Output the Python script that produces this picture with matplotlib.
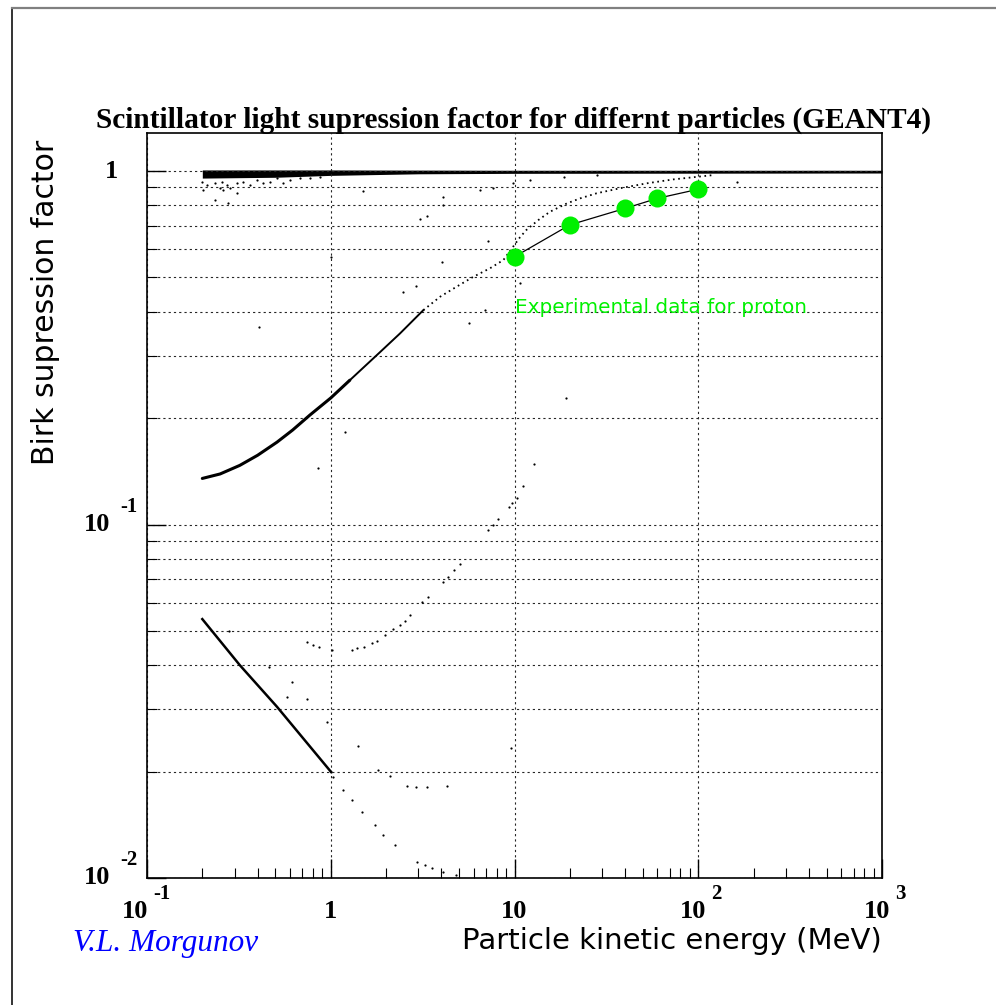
import matplotlib
matplotlib.use("Agg")
import matplotlib.pyplot as plt
import numpy as np
from matplotlib.lines import Line2D
from matplotlib.ticker import LogLocator, NullFormatter

plt.rcParams["lines.scale_dashes"] = False

# ---- data ----
# dense band near 1 (all particles at high energy)
band_x = [0.2, 0.5, 1.0, 3.0, 10, 100, 1000]
band_hi = [1.007, 1.007, 1.007, 1.006, 1.005, 1.005, 1.005]
band_lo = [0.955, 0.960, 0.972, 0.982, 0.985, 0.986, 0.987]

# scattered points just below the band
band_sc_x = [0.199, 0.2025, 0.211, 0.235, 0.235, 0.25, 0.255, 0.26, 0.272, 0.277, 0.283,
             0.308, 0.308, 0.334, 0.364, 0.396, 0.43, 0.467, 0.508, 0.552, 0.60, 0.68,
             0.77, 0.87, 1.5, 4.09, 4.09, 6.5, 7.68, 9.87, 12.2, 18.5, 28.0, 162]
band_sc_y = [0.933, 0.884, 0.913, 0.923, 0.828, 0.894, 0.933, 0.884, 0.913, 0.810, 0.894,
             0.865, 0.923, 0.933, 0.913, 0.943, 0.923, 0.933, 0.953, 0.923, 0.943, 0.953,
             0.953, 0.964, 0.880, 0.844, 0.801, 0.884, 0.894, 0.923, 0.943, 0.964, 0.974, 0.930]

# proton curve, dense part
proton_x = [0.2, 0.25, 0.32, 0.40, 0.51, 0.62, 0.77, 1.0, 1.27]
proton_y = [0.135, 0.139, 0.147, 0.157, 0.171, 0.185, 0.204, 0.228, 0.256]
# proton curve, thinner part
proton1_x = [1.27, 1.85, 2.38, 3.19]
proton1_y = [0.256, 0.307, 0.347, 0.404]
# proton curve, sparse part
proton2_x = [3.19, 3.94, 4.85, 5.97, 7.37, 8.7, 10.7, 11.6, 13.5, 15.6, 19.3,
             22.8, 28.0, 37.6, 52.5, 73.3, 121]
proton2_y = [0.404, 0.441, 0.471, 0.502, 0.531, 0.560, 0.649, 0.681, 0.727, 0.767,
             0.810, 0.837, 0.865, 0.894, 0.923, 0.947, 0.974]

# alpha-like curve, dense part then sparse tail
alpha_x = [0.2, 0.32, 0.51, 1.0]
alpha_y = [0.054, 0.040, 0.0305, 0.020]
alpha2_x = [1.0, 1.033, 1.171, 1.301, 1.475, 1.743, 1.934, 2.239, 2.961, 3.262, 3.574,
            4.102, 4.81]
alpha2_y = [0.020, 0.0193, 0.0177, 0.0166, 0.0154, 0.0141, 0.0132, 0.0124, 0.0111,
            0.0109, 0.0107, 0.0104, 0.0102]

# rising sparse curve
rise_x = [0.74, 0.804, 0.867, 1.013, 1.301, 1.385, 1.518, 1.672, 1.78, 1.975, 2.192,
          2.384, 2.538, 2.702, 3.15, 3.39, 4.07, 4.37, 4.69, 5.06, 7.21, 7.68, 8.17,
          9.38, 9.67, 10.3, 11.1, 12.7, 19.0]
rise_y = [0.0466, 0.0456, 0.0449, 0.0442, 0.0442, 0.0446, 0.0451, 0.0461, 0.0469, 0.0487,
          0.0505, 0.0520, 0.0534, 0.0555, 0.0603, 0.0625, 0.0686, 0.0712, 0.0743, 0.0772,
          0.0965, 0.0997, 0.1034, 0.1123, 0.1148, 0.1186, 0.1288, 0.148, 0.2275]

# low flat sparse curve
low_x = [1.81, 2.10, 2.60, 2.91, 3.34, 4.30]
low_y = [0.0202, 0.0194, 0.0182, 0.0181, 0.0181, 0.0182]

# isolated points
iso_x = [3.06, 3.34, 6.92, 7.18, 1.0, 2.475, 2.91, 4.04, 5.66, 0.407, 10.7, 0.856,
         1.196, 0.2795, 0.4596, 0.6134, 0.5758, 0.7401, 0.951, 1.414, 9.58]
iso_y = [0.732, 0.746, 0.404, 0.634, 0.571, 0.455, 0.473, 0.553, 0.372, 0.362, 0.482,
         0.1447, 0.183, 0.0501, 0.0394, 0.0359, 0.0326, 0.0321, 0.0277, 0.0237, 0.0233]

# experimental proton data
exp_x = [10, 20, 40, 60, 100]
exp_y = [0.572, 0.704, 0.784, 0.837, 0.888]

# ---- figure ----
fig = plt.figure(figsize=(9.96, 10.05), dpi=100)
ax = fig.add_axes([147 / 996, 1 - 878 / 1005, 735 / 996, 745 / 1005])
ax.set_xscale("log")
ax.set_yscale("log")
ax.set_xlim(0.1, 1000)
ax.set_ylim(0.01, 1.281)

ax.xaxis.set_major_locator(LogLocator(base=10, numticks=10))
ax.xaxis.set_minor_locator(LogLocator(base=10, subs=np.arange(2, 10), numticks=40))
ax.yaxis.set_major_locator(LogLocator(base=10, numticks=10))
ax.yaxis.set_minor_locator(LogLocator(base=10, subs=np.arange(2, 10), numticks=40))
ax.xaxis.set_minor_formatter(NullFormatter())
ax.yaxis.set_minor_formatter(NullFormatter())
ax.tick_params(which="major", direction="in", length=14, width=1.0,
               labelbottom=False, labelleft=False)
ax.tick_params(which="minor", direction="in", length=7, width=0.8)
for s in ax.spines.values():
    s.set_linewidth(1.2)

grid_kw = dict(color="0.15", linewidth=0.8, linestyle=(0, (1.6, 2.2)))
ax.grid(True, which="major", axis="x", **grid_kw)
ax.grid(True, which="both", axis="y", **grid_kw)

# simulated points
ax.fill_between(band_x, band_lo, band_hi, color="black", linewidth=0)
ax.plot(band_sc_x, band_sc_y, "o", color="black", ms=1.6, mew=0)
ax.plot(proton_x, proton_y, "-", color="black", lw=2.2, solid_capstyle="round")
ax.plot(proton1_x, proton1_y, "-", color="black", lw=1.4)
ax.plot(proton2_x, proton2_y, color="black", lw=1.3, linestyle=(0, (1.2, 2.6)))
ax.plot(alpha_x, alpha_y, "-", color="black", lw=1.8)
ax.plot(alpha2_x, alpha2_y, "o", color="black", ms=1.6, mew=0)
ax.plot(rise_x, rise_y, "o", color="black", ms=1.6, mew=0)
ax.plot(low_x, low_y, "o", color="black", ms=1.6, mew=0)
ax.plot(iso_x, iso_y, "o", color="black", ms=1.6, mew=0)

# experimental data
ax.plot(exp_x, exp_y, "-", color="black", lw=0.9, zorder=4)
ax.plot(exp_x, exp_y, "o", color="#00f000", ms=13, mew=0, zorder=5)
ax.text(10.05, 0.41, "Experimental data for proton", color="#00f000",
        fontsize=14.4, family="DejaVu Sans", ha="left", va="center")

# tick labels, ROOT style
lab_kw = dict(fontsize=19, fontweight="bold", family="Liberation Serif",
              textcoords="offset pixels", annotation_clip=False)
exp_kw = dict(fontsize=15, fontweight="bold", family="Liberation Serif",
              textcoords="offset pixels", annotation_clip=False)
x_labels = [(0.1, "10", "-1"), (1, "1", None), (10, "10", None), (100, "10", "2"), (1000, "10", "3")]
for v, base, ex in x_labels:
    xc = ("data", "axes fraction")
    if ex is None:
        ax.annotate(base, (v, 0), xycoords=xc, xytext=(0, -34), ha="center", va="center", **lab_kw)
    else:
        off = 1 if ex.startswith("-") else 8
        ax.annotate(base, (v, 0), xycoords=xc, xytext=(off, -34), ha="right", va="center", **lab_kw)
        ax.annotate(ex, (v, 0), xycoords=xc, xytext=(off + 5, -16), ha="left", va="center", **exp_kw)

y_labels = [(1, "1", None), (0.1, "10", "-1"), (0.01, "10", "-2")]
for v, base, ex in y_labels:
    yc = ("axes fraction", "data")
    if ex is None:
        ax.annotate(base, (0, v), xycoords=yc, xytext=(-29, 0), ha="right", va="center", **lab_kw)
    else:
        ax.annotate(base, (0, v), xycoords=yc, xytext=(-37, 0), ha="right", va="center", **lab_kw)
        ax.annotate(ex, (0, v), xycoords=yc, xytext=(-27, 18), ha="left", va="center", **exp_kw)

# titles and labels
fig.text(514 / 996, 1 - 120 / 1005,
         "Scintillator light supression factor for differnt particles (GEANT4)",
         fontsize=21.2, fontweight="bold", family="Liberation Serif", ha="center", va="center")
fig.text(882 / 996, 1 - 941 / 1005, "Particle kinetic energy (MeV)",
         fontsize=21, family="DejaVu Sans", ha="right", va="center")
fig.text(45 / 996, 1 - 140 / 1005, "Birk supression factor", rotation=90,
         fontsize=21.5, family="DejaVu Sans", ha="center", va="top")
fig.text(73 / 996, 1 - 943 / 1005, "V.L. Morgunov", color="#0000ff",
         fontsize=22.5, style="italic", family="Liberation Serif", ha="left", va="center")

# canvas border (top and left)
fig.add_artist(Line2D([12 / 996, 12 / 996], [0, 1 - 8 / 1005], color="0.2", lw=1.4))
fig.add_artist(Line2D([12 / 996, 1], [1 - 8 / 1005, 1 - 8 / 1005], color="0.5", lw=1.6))

fig.savefig("out.png", dpi=100)
